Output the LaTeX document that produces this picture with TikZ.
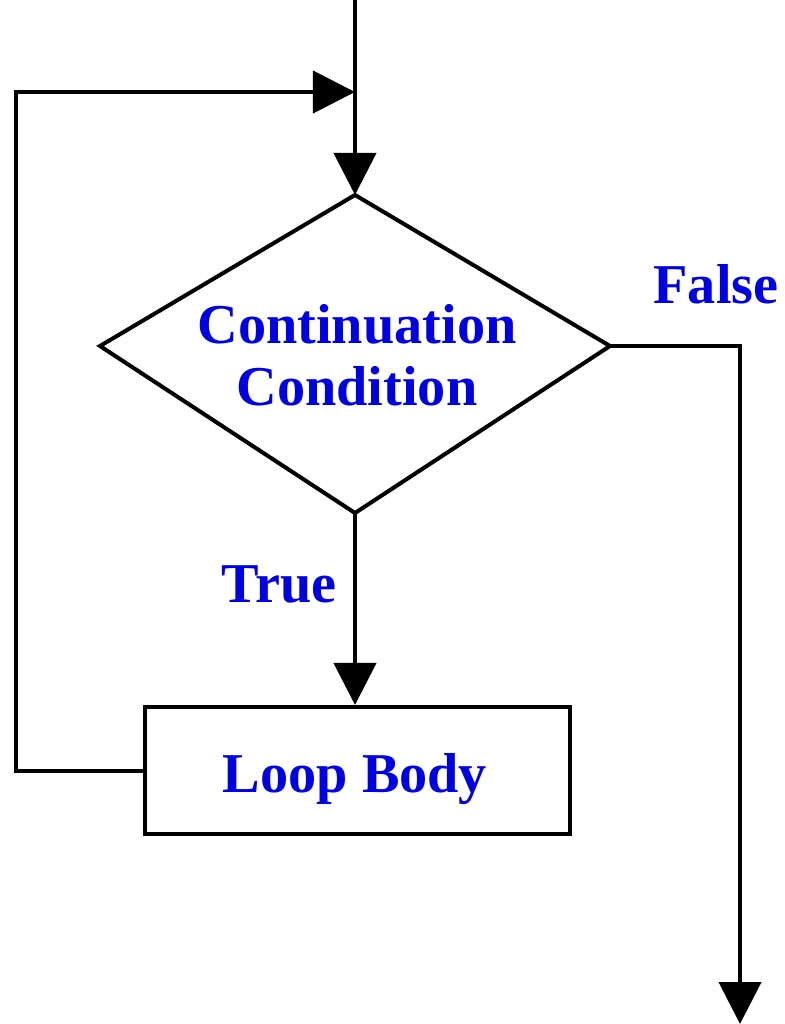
\documentclass[tikz,border=0pt]{standalone}
\usepackage{fontspec}
\setmainfont{Liberation Serif}
\usetikzlibrary{arrows.meta, calc}
\definecolor{labelblue}{RGB}{0,0,230}
\tikzstyle{flowline} = [line width=2.85pt, draw=black]
\tikzstyle{arrow} = [flowline, -{Triangle[length=1.05cm, width=1.05cm]}]
\tikzstyle{decision} = [flowline, line join=miter]
\tikzstyle{process} = [rectangle, flowline, minimum width=10.625cm, minimum height=3.175cm, inner sep=0pt]
\tikzstyle{label} = [text=labelblue, font=\fontsize{40}{44}\selectfont\bfseries, inner sep=0pt, anchor=base, align=center]

\begin{document}
\begin{tikzpicture}[x=0.025cm, y=-0.025cm]

% Frame
\useasboundingbox (0,0) rectangle (784,1024);

% Decision
\coordinate (ctop) at (355,195);
\coordinate (cright) at (610,346);
\coordinate (cbot) at (355,513);
\coordinate (cleft) at (100,346);
\draw[decision] (ctop) -- (cright) -- (cbot) -- (cleft) -- cycle;
\node[label] (cond) at (357,405) {Continuation\\Condition};

% Loop body
\node[process] (body) at (357.5,770.5) {};
\node[label] (bodytext) at (355,792) {Loop Body};

% Branch labels
\node[label] (false) at (716,303) {False};
\node[label] (true) at (279,602) {True};

% Entry and join points
\coordinate (entry) at (355,0);
\coordinate (join) at (355,92);
\coordinate (exit) at (740,1024);

% Connectors
\draw[arrow] (entry) -- (ctop);
\draw[arrow] (cbot) -- (cbot |- body.north);
\draw[arrow] (body.west) -- (16,770.5) -- (16,92) -- (join);
\draw[arrow] (cright) -- (cright -| exit) -- (exit);

\end{tikzpicture}
\end{document}
